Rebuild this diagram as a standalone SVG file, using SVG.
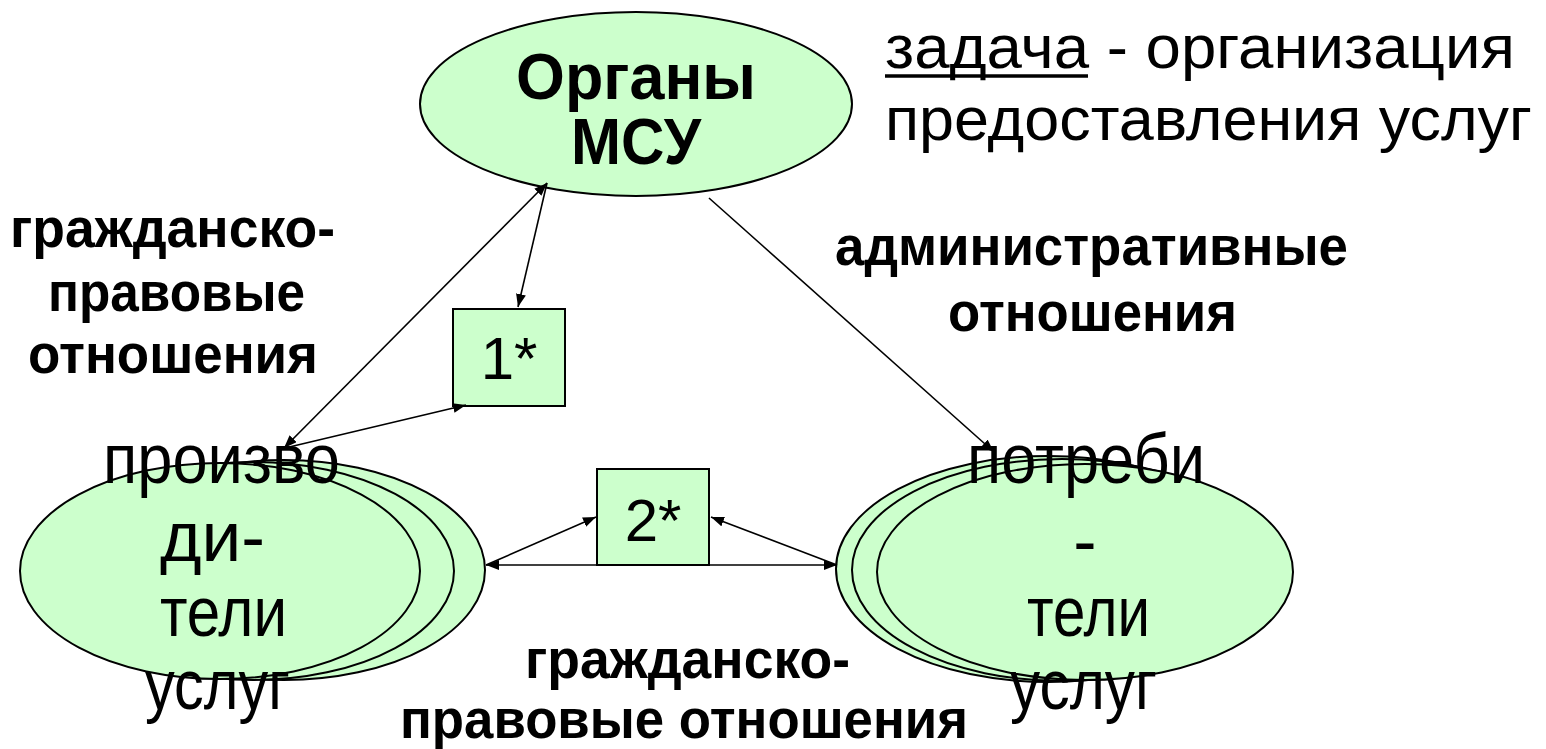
<svg xmlns="http://www.w3.org/2000/svg" width="1546" height="749" viewBox="0 0 1546 749">
  <style>
    .fill { fill: #CCFFCC; stroke: #000; stroke-width: 2; }
    .lbl { font-family: "Liberation Sans", Arial, sans-serif; font-weight: bold; font-size: 55px; fill: #000; }
    .big { font-family: "Liberation Sans", Arial, sans-serif; font-size: 70px; fill: #000; }
    .bigb { font-family: "Liberation Sans", Arial, sans-serif; font-weight: bold; font-size: 64px; fill: #000; }
    .note { font-family: "Liberation Sans", Arial, sans-serif; font-size: 61px; fill: #000; }
    .num { font-family: "Liberation Sans", Arial, sans-serif; font-size: 60px; fill: #000; }
    .conn line { stroke: #000; stroke-width: 1.6; fill: none; }
  </style>
  <defs>
    <marker id="ah" markerUnits="userSpaceOnUse" markerWidth="14" markerHeight="10" refX="13" refY="5" orient="auto-start-reverse">
      <path d="M0,0 L13,5 L0,10 z" fill="#000"/>
    </marker>
  </defs>
  <rect width="1546" height="749" fill="#fff"/>

  <g id="node-msu">
    <ellipse class="fill" cx="636" cy="104" rx="216" ry="92"/>
    <text class="bigb" x="636" y="99" text-anchor="middle" textLength="240" lengthAdjust="spacingAndGlyphs">Органы</text>
    <text class="bigb" x="636" y="164" text-anchor="middle" textLength="130" lengthAdjust="spacingAndGlyphs">МСУ</text>
  </g>

  <g id="node-task">
    <text class="note" x="885" y="68" textLength="630" lengthAdjust="spacingAndGlyphs">задача - организация</text>
    <line x1="885" y1="76" x2="1088" y2="76" stroke="#000" stroke-width="3.5"/>
    <text class="note" x="885" y="140" textLength="647" lengthAdjust="spacingAndGlyphs">предоставления услуг</text>
  </g>

  <g id="label-left">
    <text class="lbl" x="10" y="247" textLength="325" lengthAdjust="spacingAndGlyphs">гражданско-</text>
    <text class="lbl" x="48" y="311" textLength="257" lengthAdjust="spacingAndGlyphs">правовые</text>
    <text class="lbl" x="28" y="373" textLength="290" lengthAdjust="spacingAndGlyphs">отношения</text>
  </g>

  <g id="label-admin">
    <text class="lbl" x="835" y="265" textLength="513" lengthAdjust="spacingAndGlyphs">административные</text>
    <text class="lbl" x="948" y="331" textLength="289" lengthAdjust="spacingAndGlyphs">отношения</text>
  </g>

  <g id="label-bottom">
    <text class="lbl" x="525" y="678" textLength="325" lengthAdjust="spacingAndGlyphs">гражданско-</text>
    <text class="lbl" x="400" y="738" textLength="568" lengthAdjust="spacingAndGlyphs">правовые отношения</text>
  </g>

  <g id="node-box1">
    <rect class="fill" x="453" y="309" width="112" height="97"/>
    <text class="num" x="509" y="379" text-anchor="middle">1*</text>
  </g>

  <g id="node-box2">
    <rect class="fill" x="597" y="469" width="112" height="96"/>
    <text class="num" x="653" y="541" text-anchor="middle">2*</text>
  </g>

  <g id="node-producers">
    <ellipse class="fill" cx="284" cy="570" rx="201" ry="110"/>
    <ellipse class="fill" cx="253" cy="571" rx="201" ry="109"/>
    <ellipse class="fill" cx="220" cy="571" rx="200" ry="108"/>
    <text class="big" x="103" y="483" textLength="237" lengthAdjust="spacingAndGlyphs">произво</text>
    <text class="big" x="160" y="561" textLength="105" lengthAdjust="spacingAndGlyphs">ди-</text>
    <text class="big" x="160" y="636" textLength="127" lengthAdjust="spacingAndGlyphs">тели</text>
    <text class="big" x="145" y="709" textLength="145" lengthAdjust="spacingAndGlyphs">услуг</text>
  </g>

  <g id="node-consumers">
    <ellipse class="fill" cx="1048" cy="569" rx="212" ry="113"/>
    <ellipse class="fill" cx="1062" cy="570" rx="210" ry="111"/>
    <ellipse class="fill" cx="1085" cy="572" rx="208" ry="108"/>
    <text class="big" x="967" y="483" textLength="238" lengthAdjust="spacingAndGlyphs">потреби</text>
    <text class="big" x="1085" y="565" text-anchor="middle">-</text>
    <text class="big" x="1027" y="636" textLength="123" lengthAdjust="spacingAndGlyphs">тели</text>
    <text class="big" x="1010" y="709" textLength="147" lengthAdjust="spacingAndGlyphs">услуг</text>
  </g>

  <g id="connectors" class="conn">
    <line x1="284" y1="448" x2="547" y2="183" marker-start="url(#ah)" marker-end="url(#ah)"/>
    <line x1="547" y1="183" x2="518" y2="307" marker-end="url(#ah)"/>
    <line x1="285" y1="448" x2="466" y2="405" marker-end="url(#ah)"/>
    <line x1="709" y1="198" x2="994" y2="452" marker-end="url(#ah)"/>
    <line x1="486" y1="565" x2="837" y2="565" marker-start="url(#ah)" marker-end="url(#ah)"/>
    <line x1="486" y1="565" x2="596" y2="517" marker-end="url(#ah)"/>
    <line x1="837" y1="565" x2="711" y2="517" marker-end="url(#ah)"/>
  </g>
</svg>
